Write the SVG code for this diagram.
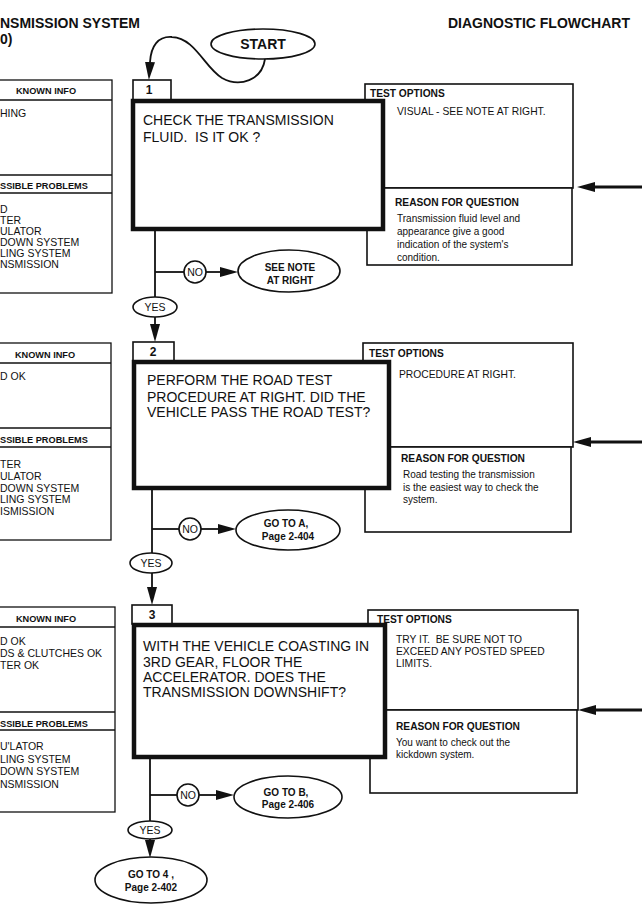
<svg xmlns="http://www.w3.org/2000/svg" width="642" height="916" viewBox="0 0 642 916">
<defs>
<marker id="arr" markerUnits="userSpaceOnUse" markerWidth="18" markerHeight="10" refX="0" refY="5" orient="auto" viewBox="0 0 18 10">
<path d="M0,0 L18,5 L0,10 z" fill="#111"/>
</marker>
<style>
text{font-family:"Liberation Sans",Arial,sans-serif;fill:#111;white-space:pre}
.hd{font-size:14px;font-weight:bold}
.lbh{font-size:9.2px;font-weight:bold}
.lbt{font-size:10.5px}
.main{font-size:14px}
.toh{font-size:10.2px;font-weight:bold}
.tot{font-size:10.3px}
.rt{font-size:10px}
.ell{font-size:10px;font-weight:bold}
.tab{font-size:12px;font-weight:bold}
.yn{font-size:10.5px}
.box{fill:#fff;stroke:#111;stroke-width:1.3}
.opt{fill:#fff;stroke:#111;stroke-width:1.6}
.mainbox{fill:#fff;stroke:#111;stroke-width:4.5}
.shape{fill:#fff;stroke:#111;stroke-width:1.6}
.ln{fill:none;stroke:#111;stroke-width:1.8}
.ln2{fill:none;stroke:#111;stroke-width:3.2}
.div{stroke:#111;stroke-width:1.3}
</style>
</defs>
<rect width="642" height="916" fill="#fff"/>

<g id="header">
<text class="hd" x="0" y="28">NSMISSION SYSTEM</text>
<text class="hd" x="0" y="44">0)</text>
<text class="hd" x="448" y="28">DIAGNOSTIC FLOWCHART</text>
</g>

<g id="known1">
<rect class="box" x="-5" y="80" width="117" height="213"/>
<line class="div" x1="-5" y1="100" x2="112" y2="100"/>
<line class="div" x1="-5" y1="175" x2="112" y2="175"/>
<line class="div" x1="-5" y1="193" x2="112" y2="193"/>
<text class="lbh" x="46" y="94" text-anchor="middle">KNOWN INFO</text>
<text class="lbt" x="0" y="117">HING</text>
<text class="lbh" x="0" y="189">SSIBLE PROBLEMS</text>
<text class="lbt" x="0" y="213">D</text>
<text class="lbt" x="0" y="224">TER</text>
<text class="lbt" x="0" y="235">ULATOR</text>
<text class="lbt" x="0" y="246">DOWN SYSTEM</text>
<text class="lbt" x="0" y="257">LING SYSTEM</text>
<text class="lbt" x="0" y="268">NSMISSION</text>
</g>

<g id="known2">
<rect class="box" x="-5" y="343" width="116" height="197"/>
<line class="div" x1="-5" y1="363" x2="111" y2="363"/>
<line class="div" x1="-5" y1="428" x2="111" y2="428"/>
<line class="div" x1="-5" y1="447" x2="111" y2="447"/>
<text class="lbh" x="45" y="358" text-anchor="middle">KNOWN INFO</text>
<text class="lbt" x="0" y="380">D OK</text>
<text class="lbh" x="0" y="443">SSIBLE PROBLEMS</text>
<text class="lbt" x="0" y="468">TER</text>
<text class="lbt" x="0" y="480">ULATOR</text>
<text class="lbt" x="0" y="492">DOWN SYSTEM</text>
<text class="lbt" x="0" y="503">LING SYSTEM</text>
<text class="lbt" x="0" y="515">ISMISSION</text>
</g>

<g id="known3">
<rect class="box" x="-5" y="607" width="120" height="205"/>
<line class="div" x1="-5" y1="627" x2="115" y2="627"/>
<line class="div" x1="-5" y1="712" x2="115" y2="712"/>
<line class="div" x1="-5" y1="730" x2="115" y2="730"/>
<text class="lbh" x="46" y="622" text-anchor="middle">KNOWN INFO</text>
<text class="lbt" x="0" y="645">D OK</text>
<text class="lbt" x="0" y="657">DS &amp; CLUTCHES OK</text>
<text class="lbt" x="0" y="669">TER OK</text>
<text class="lbh" x="0" y="727">SSIBLE PROBLEMS</text>
<text class="lbt" x="0" y="750">U'LATOR</text>
<text class="lbt" x="0" y="763">LING SYSTEM</text>
<text class="lbt" x="0" y="775">DOWN SYSTEM</text>
<text class="lbt" x="0" y="788">NSMISSION</text>
</g>

<g id="options1">
<rect class="opt" x="365" y="84" width="208" height="104"/>
<rect class="opt" x="367" y="188" width="205" height="77"/>
<text class="toh" x="370" y="97">TEST OPTIONS</text>
<text class="tot" x="397" y="115">VISUAL - SEE NOTE AT RIGHT.</text>
<text class="toh" x="395" y="206">REASON FOR QUESTION</text>
<text class="rt" x="397" y="222">Transmission fluid level and</text>
<text class="rt" x="397" y="235">appearance give a good</text>
<text class="rt" x="397" y="248">indication of the system's</text>
<text class="rt" x="397" y="261">condition.</text>
</g>

<g id="options2">
<rect class="opt" x="363" y="343" width="210" height="104"/>
<rect class="opt" x="365" y="447" width="206" height="85"/>
<text class="toh" x="369" y="357">TEST OPTIONS</text>
<text class="tot" x="399" y="378">PROCEDURE AT RIGHT.</text>
<text class="toh" x="401" y="462">REASON FOR QUESTION</text>
<text class="rt" x="403" y="478">Road testing the transmission</text>
<text class="rt" x="403" y="491">is the easiest way to check the</text>
<text class="rt" x="403" y="503">system.</text>
</g>

<g id="options3">
<rect class="opt" x="368" y="610" width="210" height="100"/>
<rect class="opt" x="370" y="710" width="207" height="83"/>
<text class="toh" x="377" y="623">TEST OPTIONS</text>
<text class="tot" x="396" y="643">TRY IT.  BE SURE NOT TO</text>
<text class="tot" x="396" y="655">EXCEED ANY POSTED SPEED</text>
<text class="tot" x="396" y="667">LIMITS.</text>
<text class="toh" x="396" y="730">REASON FOR QUESTION</text>
<text class="rt" x="396" y="746">You want to check out the</text>
<text class="rt" x="396" y="758">kickdown system.</text>
</g>

<g id="connectors">
<path class="ln" d="M265,59 C262,80 240,88 222,78 C205,68 195,38 172,37 C158,36 151,46 150,62" marker-end="url(#arr)"/>
<line class="ln" x1="155" y1="230" x2="155" y2="297"/>
<line class="ln" x1="155" y1="272" x2="184" y2="272"/>
<line class="ln" x1="206" y1="272" x2="220" y2="272" marker-end="url(#arr)"/>
<line class="ln" x1="155" y1="317" x2="155" y2="324" marker-end="url(#arr)"/>
<line class="ln" x1="152" y1="489" x2="152" y2="553"/>
<line class="ln" x1="152" y1="529" x2="179" y2="529"/>
<line class="ln" x1="201" y1="529" x2="218" y2="529" marker-end="url(#arr)"/>
<line class="ln" x1="152" y1="573" x2="152" y2="587" marker-end="url(#arr)"/>
<line class="ln" x1="150" y1="758" x2="150" y2="821"/>
<line class="ln" x1="150" y1="795" x2="177" y2="795"/>
<line class="ln" x1="199" y1="795" x2="216" y2="795" marker-end="url(#arr)"/>
<line class="ln" x1="150" y1="838" x2="150" y2="840" marker-end="url(#arr)"/>
<line class="ln2" x1="642" y1="187" x2="595" y2="187" marker-end="url(#arr)"/>
<line class="ln2" x1="642" y1="442" x2="591" y2="442" marker-end="url(#arr)"/>
<line class="ln2" x1="642" y1="710" x2="596" y2="710" marker-end="url(#arr)"/>
</g>

<g id="start">
<ellipse class="shape" cx="263" cy="44" rx="52" ry="15"/>
<text x="263" y="49" text-anchor="middle" style="font-size:14px;font-weight:bold">START</text>
</g>

<g id="step1">
<rect class="shape" x="133" y="80" width="38" height="20"/>
<text class="tab" x="149" y="94" text-anchor="middle">1</text>
<rect class="mainbox" x="133" y="101" width="250" height="128"/>
<text class="main" x="143" y="125">CHECK THE TRANSMISSION</text>
<text class="main" x="143" y="142">FLUID.  IS IT OK ?</text>
</g>

<g id="step2">
<rect class="shape" x="133" y="342" width="41" height="19"/>
<text class="tab" x="153" y="356" text-anchor="middle">2</text>
<rect class="mainbox" x="134" y="362" width="255" height="126"/>
<text class="main" x="147" y="385">PERFORM THE ROAD TEST</text>
<text class="main" x="147" y="402">PROCEDURE AT RIGHT. DID THE</text>
<text class="main" x="147" y="417">VEHICLE PASS THE ROAD TEST?</text>
</g>

<g id="step3">
<rect class="shape" x="132" y="605" width="40" height="19"/>
<text class="tab" x="152" y="619" text-anchor="middle">3</text>
<rect class="mainbox" x="134" y="625" width="251" height="132"/>
<text class="main" x="143" y="651">WITH THE VEHICLE COASTING IN</text>
<text class="main" x="143" y="667">3RD GEAR, FLOOR THE</text>
<text class="main" x="143" y="682">ACCELERATOR. DOES THE</text>
<text class="main" x="143" y="697">TRANSMISSION DOWNSHIFT?</text>
</g>

<g id="no1">
<circle class="shape" cx="195" cy="272" r="11"/>
<text class="yn" x="195" y="276" text-anchor="middle">NO</text>
</g>
<g id="note1">
<ellipse class="shape" cx="289" cy="271" rx="51" ry="21"/>
<text class="ell" x="290" y="271" text-anchor="middle">SEE NOTE</text>
<text class="ell" x="290" y="284" text-anchor="middle">AT RIGHT</text>
</g>
<g id="yes1">
<ellipse class="shape" cx="155" cy="307" rx="22" ry="10"/>
<text class="yn" x="155" y="311" text-anchor="middle">YES</text>
</g>

<g id="no2">
<circle class="shape" cx="190" cy="529" r="11"/>
<text class="yn" x="190" y="533" text-anchor="middle">NO</text>
</g>
<g id="gotoA">
<ellipse class="shape" cx="288" cy="530" rx="52" ry="20"/>
<text class="ell" x="286" y="527" text-anchor="middle">GO TO A,</text>
<text class="ell" x="288" y="540" text-anchor="middle">Page 2-404</text>
</g>
<g id="yes2">
<ellipse class="shape" cx="151" cy="563" rx="21" ry="10"/>
<text class="yn" x="151" y="567" text-anchor="middle">YES</text>
</g>

<g id="no3">
<circle class="shape" cx="188" cy="795" r="11"/>
<text class="yn" x="188" y="799" text-anchor="middle">NO</text>
</g>
<g id="gotoB">
<ellipse class="shape" cx="288" cy="797" rx="54" ry="21"/>
<text class="ell" x="286" y="796" text-anchor="middle">GO TO B,</text>
<text class="ell" x="288" y="808" text-anchor="middle">Page 2-406</text>
</g>
<g id="yes3">
<ellipse class="shape" cx="150" cy="830" rx="22" ry="9"/>
<text class="yn" x="150" y="834" text-anchor="middle">YES</text>
</g>
<g id="goto4">
<ellipse class="shape" cx="151" cy="880" rx="56" ry="23"/>
<text class="ell" x="151" y="878" text-anchor="middle">GO TO 4 ,</text>
<text class="ell" x="151" y="891" text-anchor="middle">Page 2-402</text>
</g>
</svg>
